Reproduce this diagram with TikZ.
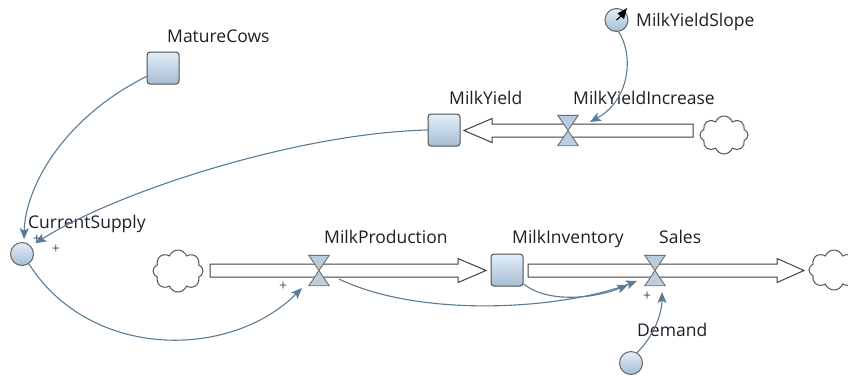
\documentclass[tikz,border=0pt]{standalone}
\usepackage{fontspec}
\setmainfont{Open Sans}
\usetikzlibrary{arrows.meta,shapes.symbols}
\definecolor{conn}{RGB}{88,124,150}
\definecolor{stocktop}{RGB}{226,238,248}
\definecolor{stockbot}{RGB}{165,190,211}
\definecolor{stockline}{RGB}{80,80,80}
\definecolor{auxline}{RGB}{100,100,100}
\definecolor{valvefill}{RGB}{184,206,224}
\definecolor{valveline}{RGB}{110,110,110}
\definecolor{pipeline}{RGB}{64,64,64}
\definecolor{cloudline}{RGB}{85,85,85}
\definecolor{labeltext}{RGB}{30,30,40}
\definecolor{pluscol}{RGB}{75,75,120}
\begin{document}
\begin{tikzpicture}[x=1pt,y=-1pt,
  stockbox/.style={draw=stockline, line width=1pt, rounded corners=3pt, top color=stocktop, bottom color=stockbot, minimum size=32pt, inner sep=0pt},
  auxcirc/.style={circle, draw=auxline, line width=1pt, top color=stocktop, bottom color=stockbot, minimum size=23pt, inner sep=0pt},
  valvebox/.style={rectangle, minimum width=20pt, minimum height=30pt, inner sep=0pt},
  valveshape/.style={draw=valveline, fill=valvefill, line width=0.9pt, line join=miter},
  pipe/.style={draw=pipeline, fill=white, line width=1pt},
  cloudshape/.style={cloud, cloud puffs=8, cloud puff arc=140, aspect=1.25, draw=cloudline, line width=1pt, fill=white, inner sep=0pt, minimum width=48pt, minimum height=38pt},
  link/.style={draw=conn, line width=1.1pt, -{Stealth[length=11pt,width=9pt,inset=2.5pt]}},
  lbl/.style={anchor=base west, inner sep=0pt, text=labeltext, font=\fontsize{17.5}{20}\selectfont},
  plus/.style={text=pluscol, font=\fontsize{14}{14}\selectfont, inner sep=0pt}
]
\useasboundingbox[fill=white] (0,0) rectangle (848,376);

% clouds
\node[cloudshape] (cloudA) at (724,135) {};
\node[cloudshape, minimum width=50pt, minimum height=42pt] (cloudB) at (178,271) {};
\node[cloudshape, minimum width=50pt, minimum height=40pt] (cloudC) at (834,270) {};

% pipes
\draw[pipe] (693,124) -- (492,124) -- (492,118.5) -- (464,130.5) -- (492,142.5) -- (492,137) -- (693,137) -- cycle;
\draw[pipe] (210,264) -- (458,264) -- (458,258.5) -- (486,270.5) -- (458,282.5) -- (458,277) -- (210,277) -- cycle;
\draw[pipe] (528,264) -- (777,264) -- (777,258.5) -- (804,270.5) -- (777,282.5) -- (777,277) -- (528,277) -- cycle;

% valves
\node[valvebox] (myi) at (568,130.5) {};
\node[valvebox] (mp) at (319,270.5) {};
\node[valvebox] (sales) at (655,270.5) {};
\foreach \v in {myi,mp,sales}
  \draw[valveshape] (\v.north west) -- (\v.north east) -- (\v.south west) -- (\v.south east) -- cycle;

% stocks
\node[stockbox] (mc) at (163,68) {};
\node[stockbox] (my) at (444,130) {};
\node[stockbox] (mi) at (507,270) {};

% auxiliaries
\node[auxcirc] (mys) at (616.5,20) {};
\node[auxcirc] (cs) at (22,254) {};
\node[auxcirc] (dm) at (631,363) {};
\draw[black, line width=1.2pt] (mys.center) -- (621,16);
\fill[black] (627,8) -- (617.5,13.5) -- (624,19) -- cycle;

% labels
\node[lbl] (lmc) at (167,42) {MatureCows};
\node[lbl] (lmys) at (636,26) {MilkYieldSlope};
\node[lbl] (lmy) at (449,104) {MilkYield};
\node[lbl] (lmyi) at (573,104) {MilkYieldIncrease};
\node[lbl] (lcs) at (28,228) {CurrentSupply};
\node[lbl] (lmp) at (324,243) {MilkProduction};
\node[lbl] (lmi) at (512,243) {MilkInventory};
\node[lbl] (lsales) at (659,243) {Sales};
\node[lbl] (ldm) at (637,336) {Demand};

% connector end points
\coordinate (myiin) at (590,122);
\coordinate (mpin) at (302,288);
\coordinate (mpout) at (339,279);
\coordinate (salesinA) at (637,281);
\coordinate (salesinB) at (628,285);
\coordinate (salesinC) at (662,292);

% connectors
\draw[link] (mc.207) .. controls (60,120) and (25,190) .. ([yshift=3pt]cs.80);
\draw[link] (my.west) .. controls (300,133) and (120,190) .. ([shift={(4,-3)}]cs.40);
\draw[link] (mys.-80) .. controls (634,55) and (630,100) .. (myiin);
\draw[link] (cs.-55) .. controls (90,360) and (230,360) .. (mpin);
\draw[link] (mpout) .. controls (420,318) and (560,310) .. (salesinA);
\draw[link] (mi.-40) .. controls (545,302) and (590,300) .. (salesinB);
\draw[link] (dm.60) .. controls (655,335) and (662,312) .. (salesinC);

% polarity signs
\node[plus] (p1) at (37,239) {+};
\node[plus] (p2) at (56,249) {+};
\node[plus] (p3) at (283,286) {+};
\node[plus] (p4) at (647,296) {+};
\end{tikzpicture}
\end{document}
